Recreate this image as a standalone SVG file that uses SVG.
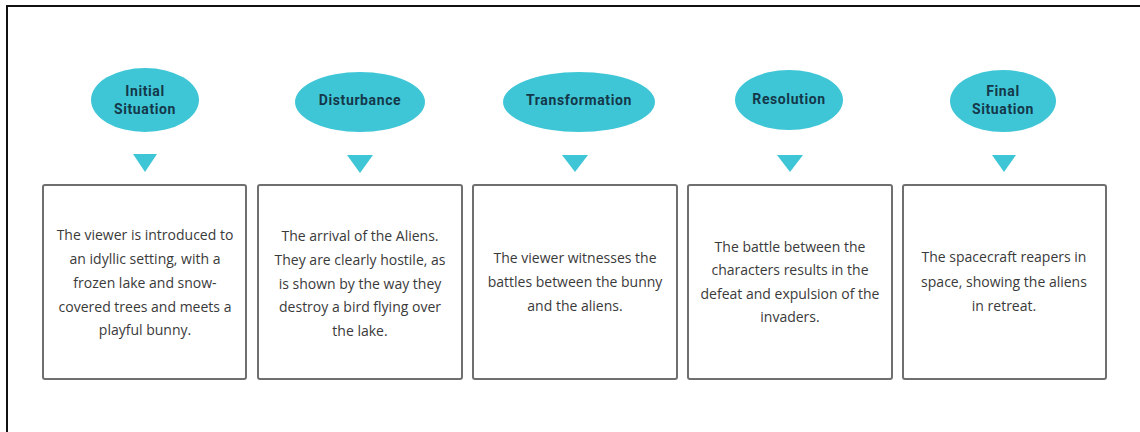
<svg xmlns="http://www.w3.org/2000/svg" width="1140" height="432" viewBox="0 0 1140 432">
  <style>
    .stage ellipse { fill: #3fc6d6; }
    .stage .head { font-family: Roboto, "Liberation Sans", sans-serif; font-weight: bold; font-size: 14px; letter-spacing: 0.6px; fill: #14384a; text-anchor: middle; }
    .stage polygon { fill: #3fc6d6; }
    .stage rect { fill: #ffffff; stroke: #6f6f6f; stroke-width: 2; }
    .stage .body { font-family: "Open Sans", "Noto Sans", sans-serif; font-size: 14px; fill: #3a3a3a; text-anchor: middle; }
    .frame { stroke: #111111; stroke-width: 2; fill: none; }
  </style>

  <rect width="1140" height="432" fill="#ffffff"/>

  <!-- outer frame: top and left edges -->
  <path class="frame" d="M7 433 V6 H1141"/>

  <g id="connectors"/>

  <g id="initial-situation" class="stage">
    <ellipse cx="145" cy="100" rx="54" ry="32"/>
    <text class="head" x="145" y="96">Initial</text>
    <text class="head" x="145" y="114">Situation</text>
    <polygon points="133,154 157,154 145,172"/>
    <rect x="43" y="185" width="203" height="194" rx="2"/>
    <text class="body" x="145" y="240">The viewer is introduced to</text>
    <text class="body" x="145" y="264">an idyllic setting, with a</text>
    <text class="body" x="145" y="288">frozen lake and snow-</text>
    <text class="body" x="145" y="312">covered trees and meets a</text>
    <text class="body" x="145" y="335">playful bunny.</text>
  </g>

  <g id="disturbance" class="stage">
    <ellipse cx="360" cy="102" rx="65" ry="30"/>
    <text class="head" x="360" y="105">Disturbance</text>
    <polygon points="347,155 373,155 360,173"/>
    <rect x="258" y="185" width="204" height="194" rx="2"/>
    <text class="body" x="360" y="241">The arrival of the Aliens.</text>
    <text class="body" x="360" y="265">They are clearly hostile, as</text>
    <text class="body" x="360" y="289">is shown by the way they</text>
    <text class="body" x="360" y="312">destroy a bird flying over</text>
    <text class="body" x="360" y="336">the lake.</text>
  </g>

  <g id="transformation" class="stage">
    <ellipse cx="579" cy="102" rx="76" ry="30"/>
    <text class="head" x="579" y="105">Transformation</text>
    <polygon points="562,155 588,155 575,172"/>
    <rect x="473" y="185" width="204" height="194" rx="2"/>
    <text class="body" x="575" y="263">The viewer witnesses the</text>
    <text class="body" x="575" y="287">battles between the bunny</text>
    <text class="body" x="575" y="311">and the aliens.</text>
  </g>

  <g id="resolution" class="stage">
    <ellipse cx="789" cy="100" rx="54" ry="30"/>
    <text class="head" x="789" y="104">Resolution</text>
    <polygon points="777,155 803,155 790,172"/>
    <rect x="688" y="185" width="204" height="194" rx="2"/>
    <text class="body" x="790" y="252">The battle between the</text>
    <text class="body" x="790" y="275">characters results in the</text>
    <text class="body" x="790" y="299">defeat and expulsion of the</text>
    <text class="body" x="790" y="322">invaders.</text>
  </g>

  <g id="final-situation" class="stage">
    <ellipse cx="1003" cy="101" rx="53" ry="31"/>
    <text class="head" x="1003" y="96">Final</text>
    <text class="head" x="1003" y="114">Situation</text>
    <polygon points="992,155 1016,155 1004,172"/>
    <rect x="903" y="185" width="203" height="194" rx="2"/>
    <text class="body" x="1004" y="262">The spacecraft reapers in</text>
    <text class="body" x="1004" y="287">space, showing the aliens</text>
    <text class="body" x="1004" y="311">in retreat.</text>
  </g>
</svg>
